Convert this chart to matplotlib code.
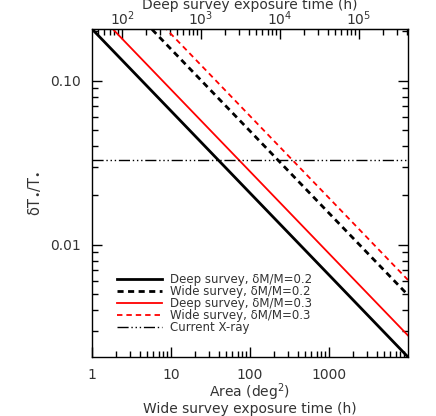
import matplotlib
matplotlib.use("Agg")
import matplotlib.pyplot as plt
import numpy as np
from matplotlib.ticker import LogLocator, NullFormatter, FixedLocator, FixedFormatter

plt.rcParams['font.family'] = ['DejaVu Sans']
plt.rcParams['mathtext.fontset'] = 'dejavusans'

# Data
area = [1, 10, 100, 1000, 10000]
deep_02 = [0.207, 0.0655, 0.0207, 0.00655, 0.00207]
wide_02 = [0.494, 0.156, 0.0494, 0.0156, 0.00494]
deep_03 = [0.28, 0.0885, 0.028, 0.00885, 0.0028]
wide_03 = [0.61, 0.193, 0.061, 0.0193, 0.0061]
xray_level = 0.033
deep_time_per_area = 41.7  # hours per deg^2 for the deep survey

x_ticks = [1, 10, 100, 1000]
x_ticklabels = ['1', '10', '100', '1000']
y_ticks = [0.01, 0.10]
y_ticklabels = ['0.01', '0.10']
top_ticks = [1e2, 1e3, 1e4, 1e5]
top_ticklabels = [r'10$^{2}$', r'10$^{3}$', r'10$^{4}$', r'10$^{5}$']

labels = ['Deep survey, δM/M=0.2', 'Wide survey, δM/M=0.2',
          'Deep survey, δM/M=0.3', 'Wide survey, δM/M=0.3',
          'Current X-ray']

fig = plt.figure(figsize=(4.36, 4.16), dpi=100)
ax = fig.add_axes([92/436, 1-357/416, (408-92)/436, (357-29)/416])

txtcol = '#333333'
ax.plot(area, deep_02, color='black', lw=2.0, label=labels[0])
ax.plot(area, wide_02, color='black', lw=2.0, ls=(0, (2.2, 1.6)), label=labels[1])
ax.plot(area, deep_03, color='red', lw=1.3, label=labels[2])
ax.plot(area, wide_03, color='red', lw=1.3, ls=(0, (3, 2.2)), label=labels[3])
ax.axhline(xray_level, color='black', lw=1.0, ls=(0, (8, 2, 1, 2, 1, 2, 1, 2)), label=labels[4])

ax.set_xscale('log')
ax.set_yscale('log')
ax.set_xlim(1, 10000)
ax.set_ylim(0.00207, 0.207)

ax.xaxis.set_major_locator(FixedLocator(x_ticks))
ax.xaxis.set_major_formatter(FixedFormatter(x_ticklabels))
ax.xaxis.set_minor_locator(LogLocator(base=10, subs=np.arange(2, 10)))
ax.xaxis.set_minor_formatter(NullFormatter())
ax.yaxis.set_major_locator(FixedLocator(y_ticks))
ax.yaxis.set_major_formatter(FixedFormatter(y_ticklabels))
ax.yaxis.set_minor_locator(LogLocator(base=10, subs=np.arange(2, 10)))
ax.yaxis.set_minor_formatter(NullFormatter())

ax.tick_params(axis='both', which='major', direction='in', length=7, width=1, labelsize=10,
               labelcolor=txtcol, pad=8)
ax.tick_params(axis='both', which='minor', direction='in', length=4, width=1)
ax.tick_params(axis='y', which='both', right=True)
ax.tick_params(axis='x', which='major', pad=8)
for s in ax.spines.values():
    s.set_linewidth(1.0)

ax.set_ylabel('δT$_{\\bullet}$/T$_{\\bullet}$', fontsize=10.5, color=txtcol, labelpad=6)
cx = (92 + 408) / 2 / 436
fig.text(cx, 1-392.5/416, 'Area (deg$^{2}$)', fontsize=10, color=txtcol, ha='center', va='center')
fig.text(cx, 1-409.5/416, 'Wide survey exposure time (h)', fontsize=10,
         color=txtcol, ha='center', va='center')

top = ax.secondary_xaxis('top', functions=(lambda a: a*deep_time_per_area,
                                            lambda t: t/deep_time_per_area))
top.set_xscale('log')
top.xaxis.set_major_locator(FixedLocator(top_ticks))
top.xaxis.set_major_formatter(FixedFormatter(top_ticklabels))
top.xaxis.set_minor_locator(LogLocator(base=10, subs=np.arange(2, 10)))
top.xaxis.set_minor_formatter(NullFormatter())
top.tick_params(which='major', direction='in', length=7, width=1, labelsize=10,
                labelcolor=txtcol, pad=1)
top.tick_params(which='minor', direction='in', length=4, width=1)
top.set_xlabel('Deep survey exposure time (h)', fontsize=10, color=txtcol, labelpad=0)

leg = ax.legend(loc='lower left', bbox_to_anchor=(0.065, 0.055), frameon=False, fontsize=8.5,
                handlelength=3.8, handletextpad=0.7, labelspacing=-0.08, borderaxespad=0)
for t in leg.get_texts():
    t.set_color(txtcol)

fig.savefig('out.png', dpi=100)
